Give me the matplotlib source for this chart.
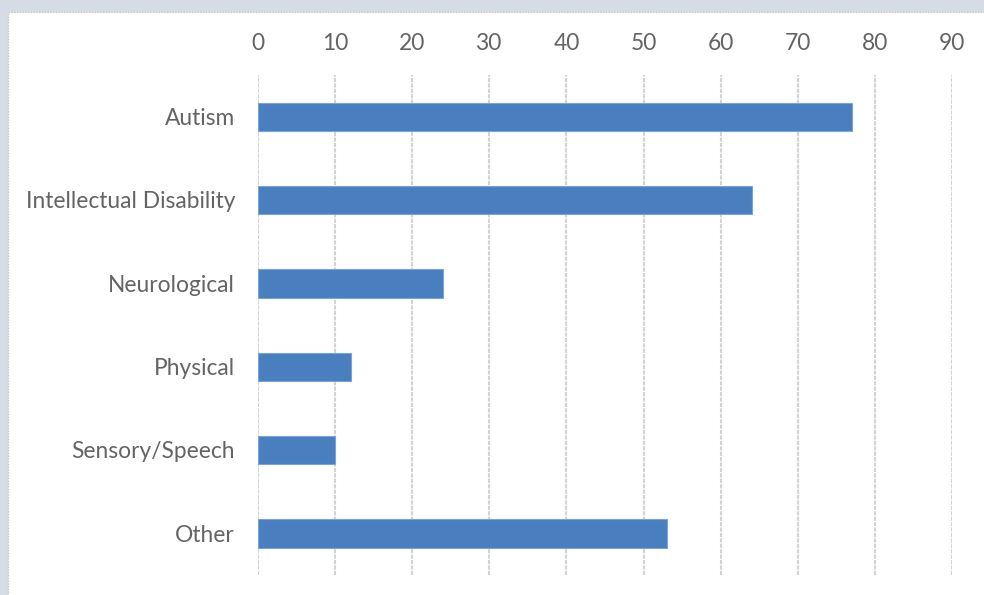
#!/usr/bin/env python3
"""Horizontal bar chart of disability categories, axis on top."""

import matplotlib.pyplot as plt
from matplotlib.patches import Rectangle

categories = ["Autism", "Intellectual Disability", "Neurological",
              "Physical", "Sensory/Speech", "Other"]
values = [77, 64, 24, 12, 10, 53]
x_ticks = [0, 10, 20, 30, 40, 50, 60, 70, 80, 90]


def main():
    plt.rcParams['font.family'] = ['Lato', 'DejaVu Sans']

    fig = plt.figure(figsize=(9.84, 5.95), dpi=100)
    fig.patch.set_facecolor('#D6DCE5')

    # white chart area with a dotted edge
    fig.patches.append(Rectangle((8 / 984, -0.01), 1, 1.01 - 12 / 595,
                                 transform=fig.transFigure, facecolor='white',
                                 edgecolor='#C8C8C8', linestyle=(0, (1, 1)),
                                 linewidth=1, zorder=-10))

    ax = fig.add_axes([258 / 984, 1 - 575 / 595, 694 / 984, 500 / 595])
    ax.set_facecolor('none')
    ax.set_zorder(5)

    ypos = list(range(len(categories)))
    ax.barh(ypos, values, height=0.34, color='#4A7FBF',
            edgecolor='#7BA3D6', linewidth=0.8, zorder=3)

    ax.set_ylim(len(categories) - 0.5, -0.5)
    ax.set_xlim(0, 90)
    ax.set_yticks(ypos)
    ax.set_yticklabels(categories)
    ax.set_xticks(x_ticks)
    ax.xaxis.tick_top()

    ax.grid(axis='x', color='#D3D3D3', linewidth=1.5, linestyle=(0, (2, 0.6)), zorder=0)
    ax.tick_params(axis='both', length=0, labelsize=16.4, labelcolor='#646464')
    ax.tick_params(axis='y', pad=16.5)
    ax.tick_params(axis='x', pad=15)
    for side in ax.spines.values():
        side.set_visible(False)

    fig.savefig("out.png", dpi=100, facecolor=fig.get_facecolor())
    plt.close(fig)


if __name__ == "__main__":
    main()
